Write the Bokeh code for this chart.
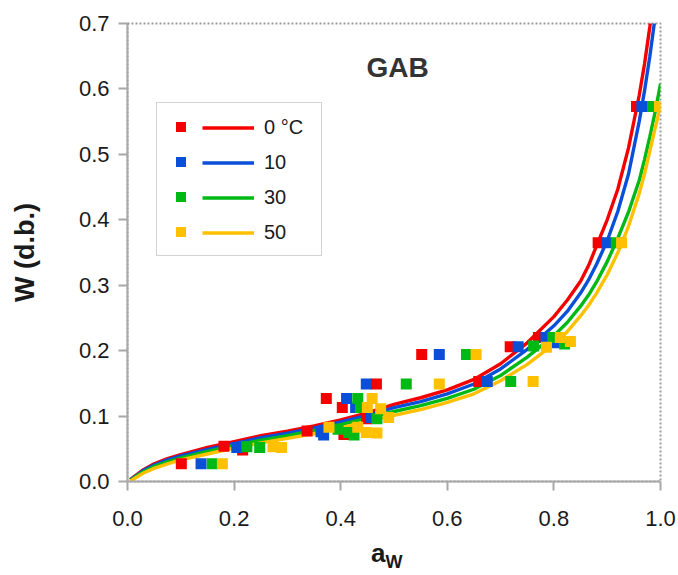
from bokeh.plotting import figure
from bokeh.models import (Range1d, FixedTicker, PrintfTickFormatter, Legend,
                          LegendItem, Label, ColumnDataSource, Div)
from bokeh.layouts import column
from bokeh.core.properties import value
from bokeh.embed import file_html
from bokeh.resources import INLINE

FONT = "Liberation Sans"

# ---------------- data ----------------
series_labels = ["0 °C", "10", "30", "50"]
series_colors = ["#f50000", "#0a4fd8", "#00b914", "#ffc000"]

# GAB model curves (common aw grid)
curve_aw = [0.005, 0.01, 0.02, 0.03, 0.05, 0.075, 0.1, 0.15, 0.2, 0.25, 0.3, 0.35,
            0.4, 0.45, 0.5, 0.55, 0.6, 0.65, 0.7, 0.75, 0.8, 0.825, 0.85, 0.865,
            0.88, 0.9, 0.92, 0.94, 0.96, 0.97, 0.98, 0.99, 1.0]
curve_w_0 = [0.003, 0.006, 0.012, 0.018, 0.027, 0.035, 0.041, 0.052, 0.061, 0.070,
             0.077, 0.085, 0.094, 0.105, 0.118, 0.128, 0.140, 0.156, 0.180, 0.212,
             0.252, 0.277, 0.306, 0.330, 0.360, 0.400, 0.447, 0.510, 0.590, 0.638,
             0.695, 0.760, 0.830]
curve_w_10 = [0.003, 0.005, 0.011, 0.017, 0.025, 0.033, 0.039, 0.049, 0.058, 0.067,
              0.074, 0.082, 0.091, 0.101, 0.113, 0.122, 0.134, 0.149, 0.172, 0.202,
              0.238, 0.260, 0.288, 0.308, 0.332, 0.368, 0.413, 0.470, 0.550, 0.597,
              0.650, 0.710, 0.780]
curve_w_30 = [0.002, 0.004, 0.010, 0.015, 0.023, 0.030, 0.036, 0.046, 0.055, 0.063,
              0.070, 0.078, 0.087, 0.097, 0.107, 0.116, 0.127, 0.141, 0.162, 0.190,
              0.223, 0.243, 0.268, 0.285, 0.305, 0.336, 0.372, 0.412, 0.460, 0.492,
              0.527, 0.565, 0.608]
curve_w_50 = [0.001, 0.003, 0.008, 0.013, 0.020, 0.027, 0.033, 0.042, 0.051, 0.059,
              0.066, 0.073, 0.082, 0.092, 0.101, 0.110, 0.121, 0.134, 0.154, 0.179,
              0.210, 0.229, 0.253, 0.269, 0.288, 0.316, 0.350, 0.390, 0.440, 0.470,
              0.505, 0.540, 0.575]

# experimental points
pts_aw_0 = [0.101, 0.181, 0.216, 0.337, 0.373, 0.403, 0.406, 0.449, 0.467, 0.552,
            0.659, 0.718, 0.771, 0.883, 0.955]
pts_w_0 = [0.027, 0.054, 0.048, 0.077, 0.127, 0.113, 0.072, 0.096, 0.149, 0.194,
           0.153, 0.206, 0.220, 0.365, 0.573]
pts_aw_10 = [0.138, 0.205, 0.363, 0.368, 0.411, 0.428, 0.448, 0.457, 0.585, 0.675,
             0.733, 0.785, 0.806, 0.899, 0.965]
pts_w_10 = [0.027, 0.052, 0.076, 0.071, 0.127, 0.113, 0.149, 0.098, 0.194, 0.153,
            0.206, 0.220, 0.212, 0.365, 0.573]
pts_aw_30 = [0.159, 0.224, 0.248, 0.395, 0.415, 0.425, 0.432, 0.437, 0.468, 0.523,
             0.636, 0.719, 0.762, 0.798, 0.820, 0.917, 0.985]
pts_w_30 = [0.027, 0.053, 0.052, 0.080, 0.075, 0.071, 0.127, 0.113, 0.096, 0.149,
            0.194, 0.153, 0.207, 0.220, 0.210, 0.365, 0.573]
pts_aw_50 = [0.178, 0.273, 0.289, 0.378, 0.432, 0.448, 0.468, 0.450, 0.459, 0.475,
             0.490, 0.585, 0.654, 0.761, 0.786, 0.812, 0.831, 0.927, 0.998]
pts_w_50 = [0.027, 0.053, 0.052, 0.083, 0.083, 0.075, 0.074, 0.113, 0.127, 0.111,
            0.098, 0.149, 0.194, 0.153, 0.205, 0.220, 0.214, 0.365, 0.573]

x_ticks = [0.0, 0.2, 0.4, 0.6, 0.8, 1.0]
y_ticks = [0.0, 0.1, 0.2, 0.3, 0.4, 0.5, 0.6, 0.7]

curves = [curve_w_0, curve_w_10, curve_w_30, curve_w_50]
pts = [(pts_aw_0, pts_w_0), (pts_aw_10, pts_w_10), (pts_aw_30, pts_w_30), (pts_aw_50, pts_w_50)]

# ---------------- figure ----------------
p = figure(width=678, height=538, output_backend="svg", toolbar_location=None,
           x_range=Range1d(0, 1), y_range=Range1d(0, 0.7),
           min_border_left=127, min_border_right=18, min_border_top=23,
           min_border_bottom=57)
p.background_fill_color = "white"
p.border_fill_color = "white"
p.grid.visible = False
p.outline_line_color = "#9a9a9a"
p.outline_line_dash = "2 2"
p.outline_line_width = 2

for ax in (p.xaxis[0], p.yaxis[0]):
    ax.axis_line_color = "#a8a8a8"
    ax.axis_line_width = 2
    ax.major_tick_line_color = "#a8a8a8"
    ax.major_tick_line_width = 2
    ax.major_tick_out = 9
    ax.major_tick_in = 0
    ax.minor_tick_line_color = None
    ax.major_label_text_font = FONT
    ax.major_label_text_font_size = "22px"
    ax.major_label_text_color = "#1a1a1a"
    ax.formatter = PrintfTickFormatter(format="%.1f")

p.xaxis[0].ticker = FixedTicker(ticks=x_ticks)
p.yaxis[0].ticker = FixedTicker(ticks=y_ticks)
p.xaxis[0].major_label_standoff = 20
p.yaxis[0].major_label_standoff = 9
p.xaxis[0].axis_label = None

p.yaxis[0].axis_label = "W (d.b.)"
p.yaxis[0].axis_label_text_font = FONT
p.yaxis[0].axis_label_text_font_style = "bold"
p.yaxis[0].axis_label_text_font_size = "27px"
p.yaxis[0].axis_label_text_color = "#1a1a1a"
p.yaxis[0].axis_label_standoff = 36

line_rs = []
for w, c in zip(curves, series_colors):
    src = ColumnDataSource(dict(aw=curve_aw, w=w))
    line_rs.append(p.line("aw", "w", source=src, line_color=c, line_width=3.4))

sq_rs = []
for (a, w), c in zip(pts, series_colors):
    src = ColumnDataSource(dict(aw=a, w=w))
    sq_rs.append(p.scatter("aw", "w", source=src, marker="square", size=11,
                           fill_color=c, line_color=None))

# legend: squares box (with border) + lines with labels on top
leg_sq = Legend(items=[LegendItem(label=value(" "), renderers=[r]) for r in sq_rs],
                location=(29, 225), padding=11, spacing=10, glyph_height=25,
                glyph_width=25, label_height=25, label_standoff=0, label_width=117,
                border_line_color="#a8a8a8", border_line_width=1.5,
                background_fill_color="white", background_fill_alpha=1.0,
                label_text_font_size="20px", label_text_font=FONT)
leg_ln = Legend(items=[LegendItem(label=value(l), renderers=[r])
                       for l, r in zip(series_labels, line_rs)],
                location=(75, 236), padding=0, spacing=10, glyph_height=25,
                glyph_width=52, label_height=25, label_standoff=10, label_width=40,
                border_line_color=None, background_fill_alpha=0.0,
                label_text_font_size="20px", label_text_font=FONT,
                label_text_color="#1a1a1a")
p.add_layout(leg_sq)
p.add_layout(leg_ln)

# title inside the plot
p.add_layout(Label(x=270, y=414, x_units="screen", y_units="screen", text="GAB",
                   text_font=FONT, text_font_style="bold", text_font_size="28px",
                   text_color="#333333", text_align="center",
                   text_baseline="alphabetic"))

# x-axis title with subscript
xtitle = Div(text=('<span style="font-family:\'Liberation Sans\';font-weight:bold;'
                   'font-size:26px;color:#1a1a1a;line-height:30px">a'
                   '<sub style="font-size:18px;line-height:0">W</sub></span>'),
             width=220, height=37, margin=(0, 0, 0, 371))

layout = column(p, xtitle, spacing=0)
open("out.html", "w").write(file_html(layout, INLINE))
